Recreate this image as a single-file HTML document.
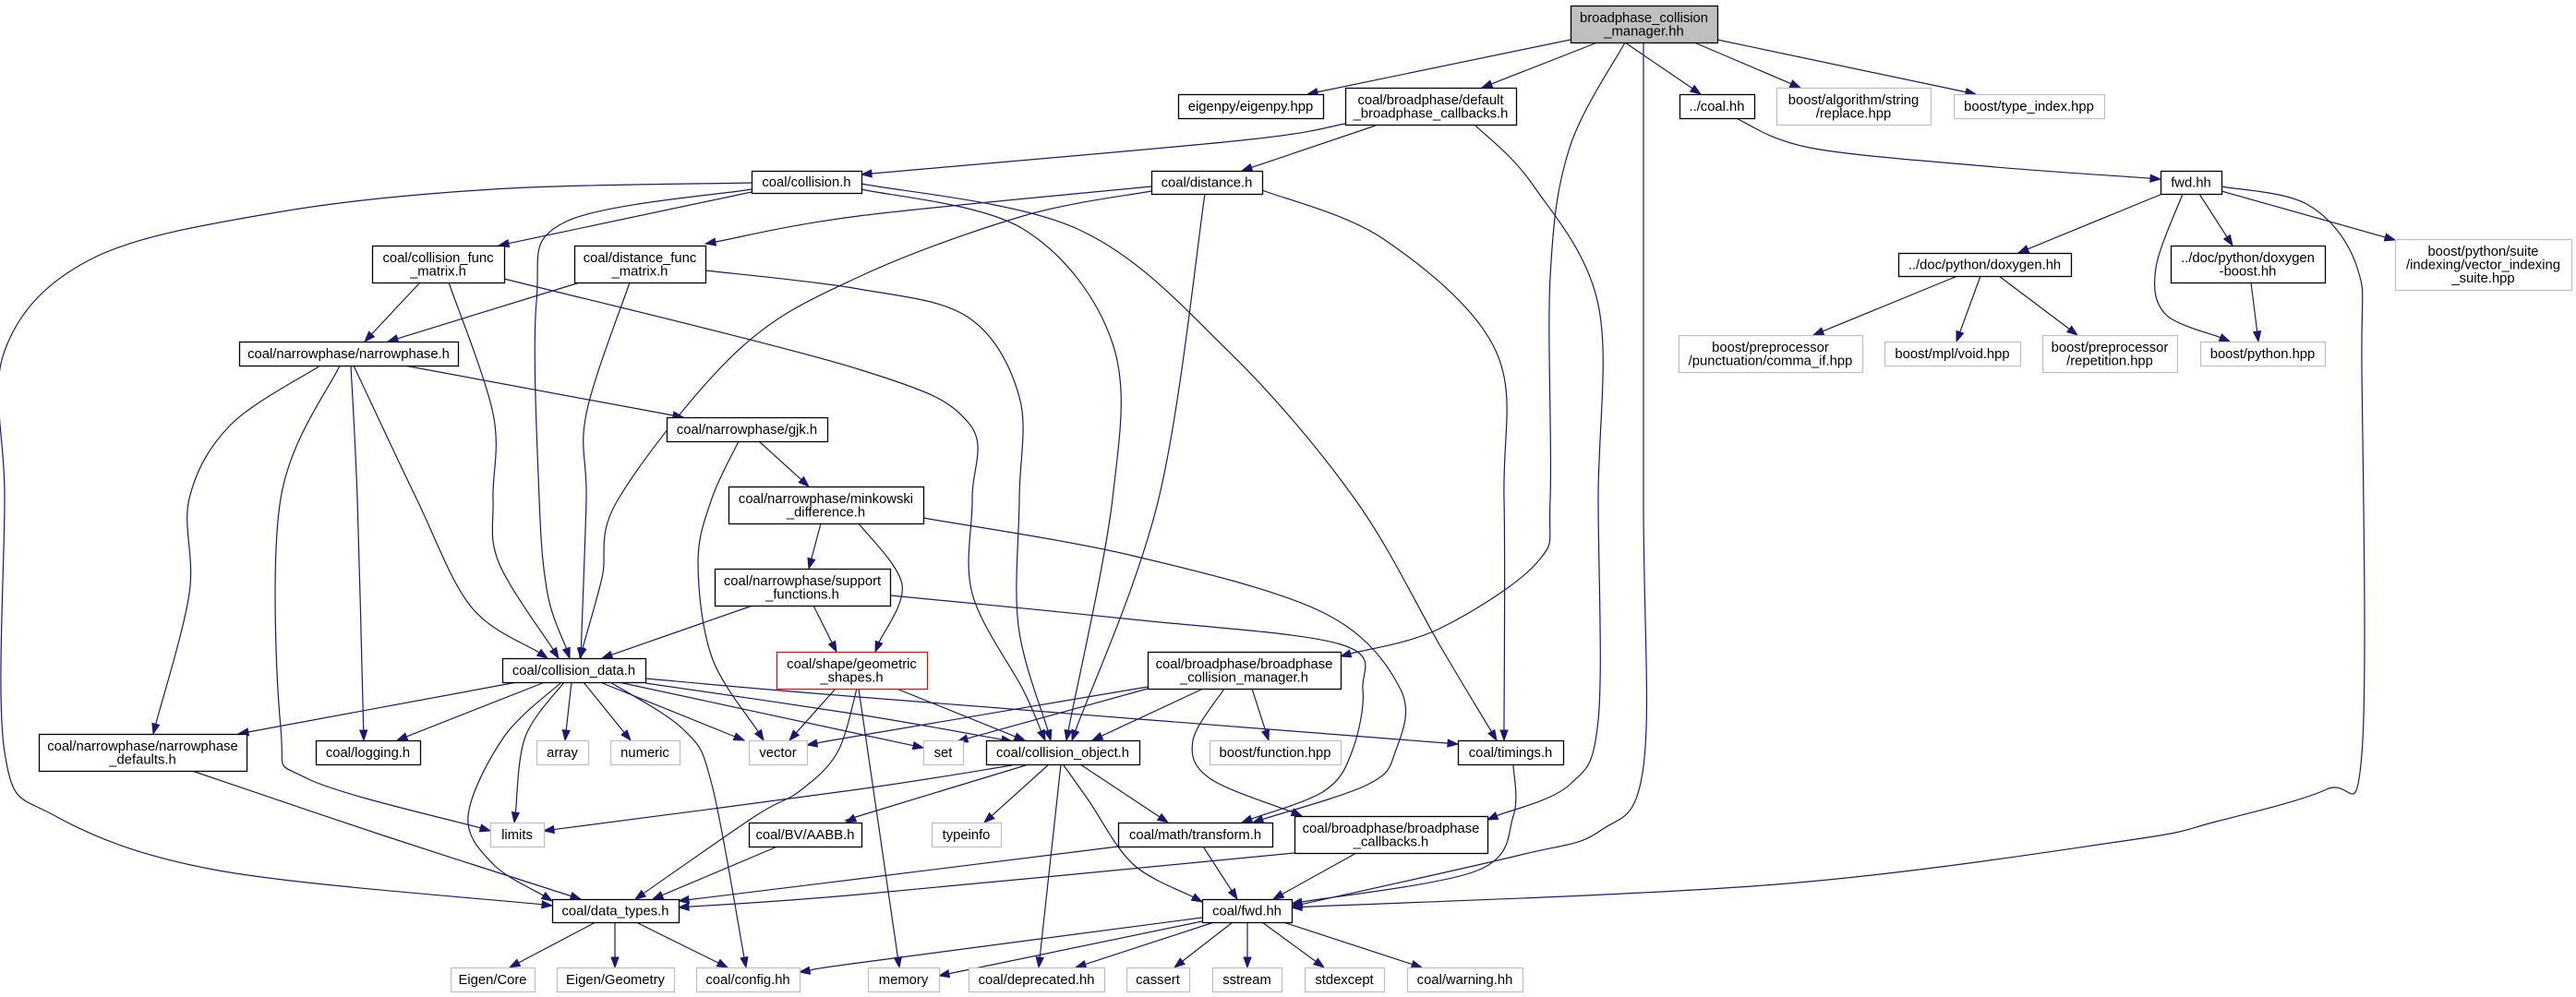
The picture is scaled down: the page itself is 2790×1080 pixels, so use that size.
<!DOCTYPE html>
<html><head><meta charset="utf-8"><style>
html,body{margin:0;padding:0;background:#fff;}
svg{display:block}
text{font-family:"Liberation Sans",Arial,sans-serif;font-size:14.8px;fill:#000}
</style></head><body>
<svg id="s" width="2790" height="1080" xmlns="http://www.w3.org/2000/svg">
<rect width="2790" height="1080" fill="#fff"/>
<g id="e" fill="none" stroke="#191970" stroke-width="1.2"></g>
<g id="a" fill="#191970" stroke="#191970" stroke-width="1"></g>
<g id="n"></g>
</svg>
<script>
var N={
T:[1701,6,1860,46,["broadphase_collision","_manager.hh"],"top"],
EIG:[1276,102,1433,128,["eigenpy/eigenpy.hpp"],"b"],
DBC:[1457,95,1642,135,["coal/broadphase/default","_broadphase_callbacks.h"],"b"],
COALHH:[1819,102,1900,128,["../coal.hh"],"b"],
REPL:[1924,95,2091,135,["boost/algorithm/string","/replace.hpp"],"g"],
TYPEIDX:[2116,102,2279,128,["boost/type_index.hpp"],"g"],
COL:[814,185,933,209,["coal/collision.h"],"b"],
DIST:[1247,185,1367,210,["coal/distance.h"],"b"],
FWD:[2340,185,2406,210,["fwd.hh"],"b"],
CFM:[403,266,546,306,["coal/collision_func","_matrix.h"],"b"],
DFM:[622,266,764,306,["coal/distance_func","_matrix.h"],"b"],
DOX:[2056,274,2243,299,["../doc/python/doxygen.hh"],"b"],
DOXB:[2351,266,2518,306,["../doc/python/doxygen","-boost.hh"],"b"],
VIS:[2594,259,2785,314,["boost/python/suite","/indexing/vector_indexing","_suite.hpp"],"g"],
NP:[259,370,496,396,["coal/narrowphase/narrowphase.h"],"b"],
COMMA:[1818,363,2017,403,["boost/preprocessor","/punctuation/comma_if.hpp"],"g"],
VOID:[2041,370,2188,396,["boost/mpl/void.hpp"],"g"],
REP:[2212,363,2358,403,["boost/preprocessor","/repetition.hpp"],"g"],
BPY:[2383,370,2518,396,["boost/python.hpp"],"g"],
GJK:[722,452,896,478,["coal/narrowphase/gjk.h"],"b"],
MINK:[789,527,1000,567,["coal/narrowphase/minkowski","_difference.h"],"b"],
SUP:[774,616,964,656,["coal/narrowphase/support","_functions.h"],"b"],
GEO:[841,706,1004,746,["coal/shape/geometric","_shapes.h"],"r"],
CD:[544,713,699,739,["coal/collision_data.h"],"b"],
BCM:[1243,706,1452,746,["coal/broadphase/broadphase","_collision_manager.h"],"b"],
NPD:[42,795,267,835,["coal/narrowphase/narrowphase","_defaults.h"],"b"],
LOG:[342,802,455,828,["coal/logging.h"],"b"],
ARR:[581,802,637,828,["array"],"g"],
NUM:[661,802,736,828,["numeric"],"g"],
VEC:[811,802,874,828,["vector"],"g"],
SET:[1000,802,1043,828,["set"],"g"],
CO:[1068,802,1234,828,["coal/collision_object.h"],"b"],
BFUN:[1310,802,1452,828,["boost/function.hpp"],"g"],
TIM:[1579,802,1693,828,["coal/timings.h"],"b"],
LIM:[531,891,589,917,["limits"],"g"],
AABB:[811,891,933,917,["coal/BV/AABB.h"],"b"],
TYPEINFO:[1009,891,1084,917,["typeinfo"],"g"],
TR:[1211,891,1378,917,["coal/math/transform.h"],"b"],
BC:[1402,884,1611,924,["coal/broadphase/broadphase","_callbacks.h"],"b"],
DT:[598,974,735,999,["coal/data_types.h"],"b"],
CFWD:[1302,974,1399,999,["coal/fwd.hh"],"b"],
ECORE:[488,1048,579,1074,["Eigen/Core"],"g"],
EGEO:[603,1048,730,1074,["Eigen/Geometry"],"g"],
CONF:[754,1048,866,1074,["coal/config.hh"],"g"],
MEM:[940,1048,1017,1074,["memory"],"g"],
DEP:[1049,1048,1196,1074,["coal/deprecated.hh"],"g"],
CASS:[1220,1048,1288,1074,["cassert"],"g"],
SST:[1313,1048,1388,1074,["sstream"],"g"],
STDX:[1413,1048,1499,1074,["stdexcept"],"g"],
WARN:[1524,1048,1649,1074,["coal/warning.hh"],"g"]
};
var E=[
[[1701,43],[1416,102]],
[[1730,46],[1605,95]],
[[1760,46],[1842,102]],
[[1835,46],[1950,95]],
[[1860,43],[2140,102]],
[[1760,46],[1700,160],[1679,300],[1679,540],[1665,609],[1559,681],[1452,711]],
[[1780,46],[1780,540],[1780,830],[1733,900],[1643,927],[1399,982]],
[[1457,134],[1345,152],[933,189]],
[[1490,136],[1345,185]],
[[1597,135],[1660,200],[1731,330],[1731,540],[1731,780],[1700,850],[1611,888]],
[[1880,128],[1960,160],[2150,180],[2340,194]],
[[2342,210],[2186,274]],
[[2364,210],[2335,290],[2345,340],[2415,370]],
[[2382,210],[2418,266]],
[[2406,207],[2594,260]],
[[2406,202],[2500,222],[2553,290],[2558,400],[2558,817],[2520,855],[2400,890],[2300,911],[1924,958],[1399,983]],
[[2120,299],[1964,363]],
[[2145,299],[2119,370]],
[[2165,299],[2250,363]],
[[2438,306],[2446,370]],
[[814,198],[534,205],[300,230],[100,280],[5,380],[5,540],[5,815],[60,884],[237,943],[598,981]],
[[814,208],[540,266]],
[[814,205],[611,241],[581,327],[584,540],[593,643],[617,713]],
[[933,205],[1108,248],[1205,372],[1205,540],[1155,802]],
[[933,199],[1167,248],[1330,380],[1467,540],[1560,700],[1621,802]],
[[1247,202],[930,234],[764,264]],
[[1247,207],[1108,234],[930,300],[800,379],[670,540],[652,626],[628,713]],
[[1305,210],[1255,540],[1161,802]],
[[1367,206],[1500,260],[1620,380],[1629,540],[1629,802]],
[[455,306],[395,370]],
[[486,306],[534,448],[534,540],[540,609],[605,713]],
[[546,302],[930,400],[1049,458],[1053,540],[1053,643],[1108,747],[1132,802]],
[[628,306],[420,370]],
[[682,306],[635,448],[635,540],[629,713]],
[[764,293],[930,313],[1049,344],[1104,430],[1104,540],[1103,678],[1138,802]],
[[347,396],[250,460],[205,540],[205,643],[166,795]],
[[368,396],[304,540],[304,788],[332,843],[531,900]],
[[380,396],[387,540],[394,802]],
[[383,396],[451,540],[510,657],[593,713]],
[[438,396],[740,452]],
[[822,478],[876,527]],
[[800,478],[771,540],[756,609],[771,712],[827,802]],
[[889,567],[876,616]],
[[930,567],[977,633],[948,706]],
[[1000,561],[1227,602],[1434,664],[1517,747],[1511,815],[1481,850],[1357,891]],
[[815,656],[652,713]],
[[881,656],[906,706]],
[[964,645],[1227,671],[1452,698],[1476,747],[1464,815],[1434,857],[1345,891]],
[[905,746],[855,802]],
[[971,746],[1110,802]],
[[928,746],[907,815],[866,857],[818,884],[688,974]],
[[930,746],[974,1048]],
[[560,739],[258,795]],
[[590,739],[430,802]],
[[611,739],[569,798],[557,891]],
[[619,739],[612,802]],
[[632,739],[683,802]],
[[650,739],[806,802]],
[[670,739],[930,795],[1000,810]],
[[699,740],[930,774],[1096,803]],
[[699,735],[930,755],[1579,806]],
[[1243,744],[930,797],[874,807]],
[[608,739],[546,798],[507,884],[534,936],[598,976]],
[[661,739],[741,791],[771,850],[808,1048]],
[[1243,746],[1037,803]],
[[1303,746],[1183,802]],
[[1356,746],[1374,802]],
[[1326,746],[1292,802],[1310,843],[1410,884]],
[[1096,829],[930,855],[589,900]],
[[1111,829],[930,884],[916,891]],
[[1136,828],[1066,891]],
[[1170,828],[1265,891]],
[[1149,828],[1125,1048]],
[[1152,829],[1179,867],[1227,936],[1302,977]],
[[842,917],[707,974]],
[[1211,917],[930,952],[735,976]],
[[1303,917],[1340,974]],
[[1402,924],[930,969],[735,983]],
[[1469,924],[1379,974]],
[[1639,829],[1639,884],[1600,943],[1399,979]],
[[645,999],[552,1048]],
[[666,999],[666,1048]],
[[689,999],[788,1048]],
[[1302,994],[930,1043],[866,1053]],
[[1302,998],[1017,1057]],
[[1315,999],[1165,1048]],
[[1335,999],[1272,1048]],
[[1351,999],[1351,1048]],
[[1367,999],[1434,1048]],
[[1390,999],[1540,1048]],
[[208,835],[415,905],[629,974]]
];
var NS="http://www.w3.org/2000/svg";
function el(t,a,p){var x=document.createElementNS(NS,t);for(var k in a)x.setAttribute(k,a[k]);p.appendChild(x);return x;}
var ge=document.getElementById("e"),ga=document.getElementById("a"),gn=document.getElementById("n");
E.forEach(function(p){
 p=p.map(function(q){return q.slice();});
 var n=p.length,tip=p[n-1],pr=p[n-2];
 var dx=tip[0]-pr[0],dy=tip[1]-pr[1],L=Math.sqrt(dx*dx+dy*dy);dx/=L;dy/=L;
 var AL=11,AW=4;
 var b=[tip[0]-dx*AL,tip[1]-dy*AL];
 el("polygon",{points:tip[0]+","+tip[1]+" "+(b[0]-dy*AW)+","+(b[1]+dx*AW)+" "+(b[0]+dy*AW)+","+(b[1]-dx*AW)},ga);
 p[n-1]=b;
 var d="M"+p[0][0]+","+p[0][1];
 if(p.length==2){d+=" L"+p[1][0]+","+p[1][1];}
 else{
  for(var i=0;i<p.length-1;i++){
   var p0=p[Math.max(0,i-1)],p1=p[i],p2=p[i+1],p3=p[Math.min(p.length-1,i+2)];
   var c1=[p1[0]+(p2[0]-p0[0])/6,p1[1]+(p2[1]-p0[1])/6];
   var c2=[p2[0]-(p3[0]-p1[0])/6,p2[1]-(p3[1]-p1[1])/6];
   d+=" C"+c1[0]+","+c1[1]+" "+c2[0]+","+c2[1]+" "+p2[0]+","+p2[1];
  }
 }
 el("path",{d:d},ge);
});
for(var k in N){
 var v=N[k],x=v[0],y=v[1],w=v[2]-v[0],h=v[3]-v[1],st=v[5];
 var stroke=st=="g"?"#bfbfbf":(st=="r"?"#ff0000":"#000");
 var fill=st=="top"?"#bfbfbf":"#fff";
 el("rect",{x:x+0.5,y:y+0.5,width:w,height:h,fill:fill,stroke:stroke,"stroke-width":st=="b"||st=="top"?1.3:1.2},gn);
 var lines=v[4],lh=14.5,cy=y+h/2,start=cy-(lines.length-1)*lh/2;
 lines.forEach(function(s,i){
  var t=el("text",{x:x+w/2,y:start+i*lh+5,"text-anchor":"middle"},gn);t.textContent=s;
 });
}
</script>
</body></html>
